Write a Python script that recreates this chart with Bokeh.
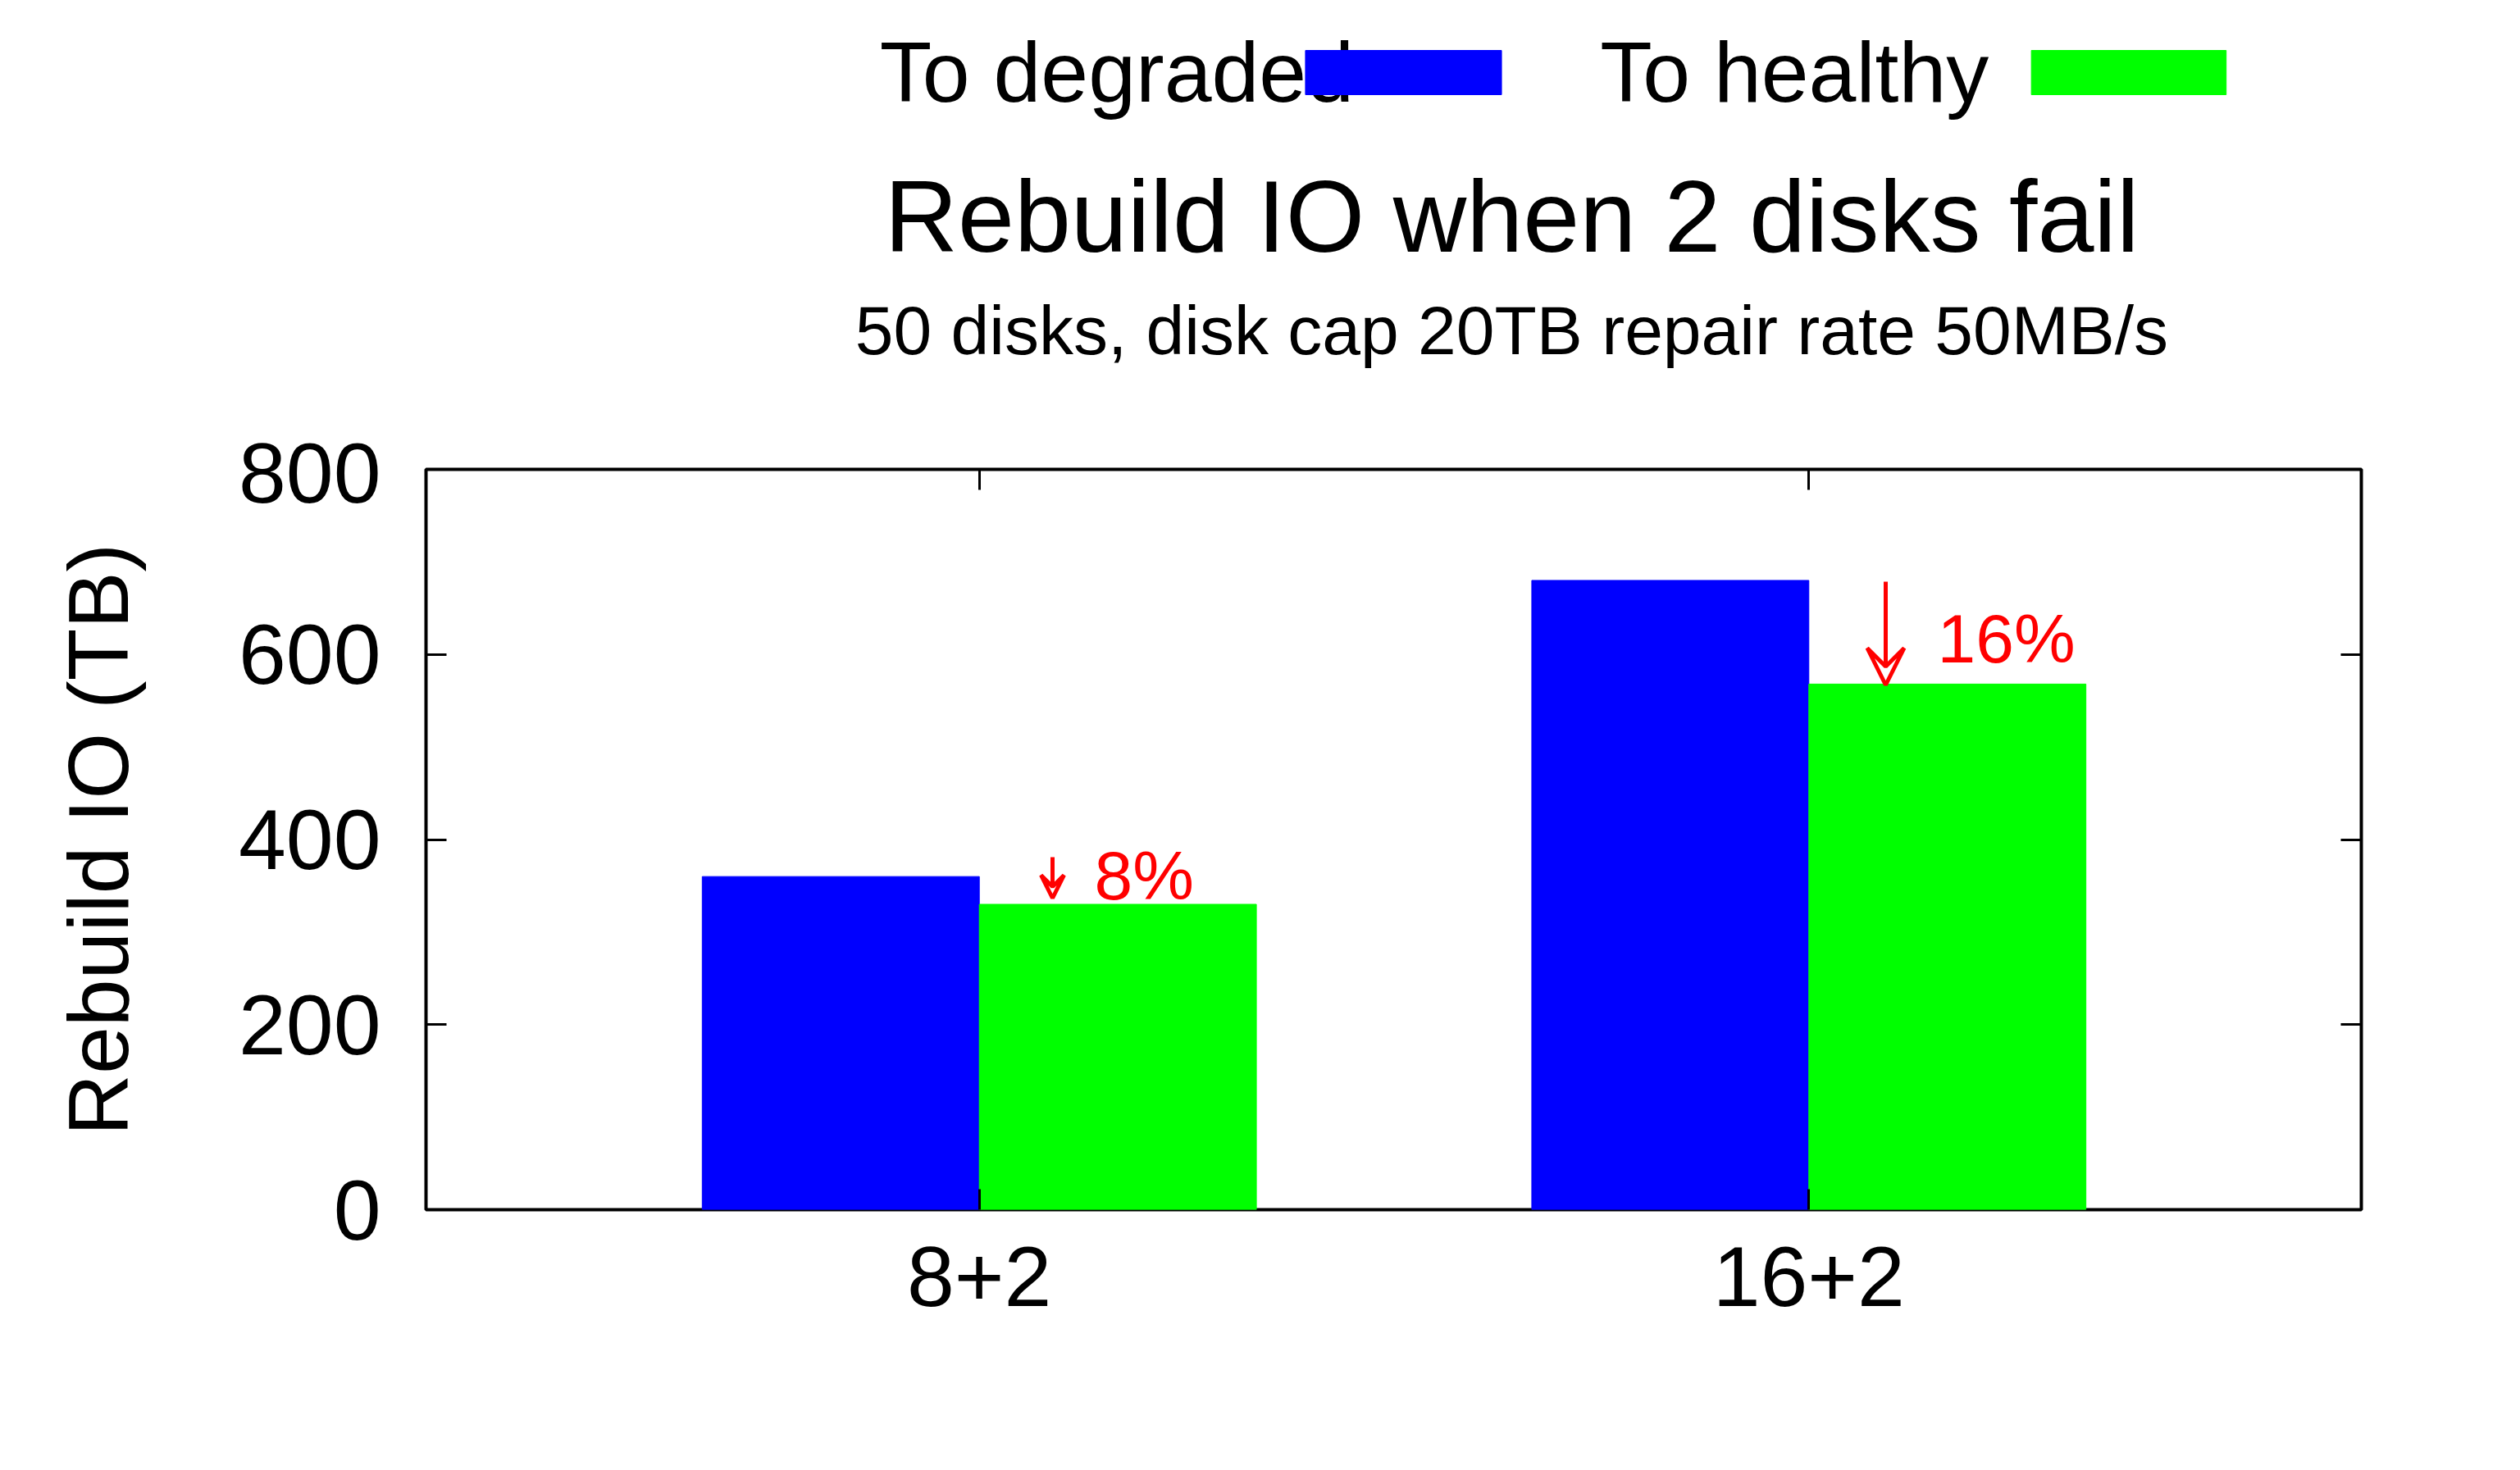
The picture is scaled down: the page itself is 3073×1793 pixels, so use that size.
from bokeh.plotting import figure
from bokeh.models import (Range1d, Label, Arrow, VeeHead, FixedTicker, LinearAxis,
                          ColumnDataSource)
from bokeh.layouts import column
from bokeh.core.properties import value
from bokeh.embed import file_html
from bokeh.resources import INLINE

# data
groups = ["8+2", "16+2"]
degraded = [360, 680]
healthy = [330, 568]
changes = ["8%", "16%"]
yticks = [0, 200, 400, 600, 800]
series = ["To degraded", "To healthy"]
title = "Rebuild IO when 2 disks fail"
subtitle = "50 disks, disk cap 20TB repair rate 50MB/s"

FONT = "Liberation Sans"
W, H = 3050, 1770
TOPH = 540
FL, FT, FR, FB = 519, 572, 2879, 1475  # frame edges in page pixels
X0, X1 = 0.333, 2.666
Y0, Y1 = 0, 800

def px2x(px):
    return X0 + (px - FL) * (X1 - X0) / (FR - FL)

def px2y(py):
    return Y1 - (py - FT) * (Y1 - Y0) / (FB - FT)

# header figure: titles and legend, in pixel coordinates
t = figure(width=W, height=TOPH, output_backend="svg", toolbar_location=None,
           x_range=Range1d(0, W), y_range=Range1d(TOPH, 0), min_border=0)
t.axis.visible = False
t.grid.grid_line_color = None
t.outline_line_color = None
t.text(x=[1711, 1711], y=[263, 402], text=[title, subtitle], text_font=value(FONT),
       text_font_size={"value": "124px"} if False else "124px", text_align="center",
       text_baseline="middle", color="black")
t.text(x=[715, 2463], y=[87, 87], text=series, text_font=value(FONT),
       text_font_size="104px", text_align=["left", "right"],
       text_baseline="middle", color="black")
t.quad(left=[1386, 2530], right=[1695, 2837], top=[61, 61], bottom=[115, 115],
       color=["#0000ff", "#00ff00"])
# subtitle smaller
t.renderers[0].glyph.text_font_size = "124px"
sub = t.text(x=[1711], y=[402], text=[subtitle], text_font=value(FONT),
             text_font_size="84px", text_align="center", text_baseline="middle",
             color="black")
t.renderers[0].data_source.data = dict(x=[1711], y=[263], text=[title])

p = figure(width=W, height=H - TOPH, output_backend="svg", toolbar_location=None,
           x_range=Range1d(X0, X1), y_range=Range1d(Y0, Y1),
           min_border_left=FL, min_border_top=FT - TOPH, min_border_right=W - FR,
           min_border_bottom=H - FB)
p.grid.grid_line_color = None
p.outline_line_color = "black"
p.outline_line_width = 4

xs = [1, 2]
src = ColumnDataSource(dict(x=xs, deg=degraded, hea=healthy,
                            xd=[x - 0.167 for x in xs], xh=[x + 0.167 for x in xs]))
p.vbar(x="xd", top="deg", width=0.334, source=src, color="#0000ff")
p.vbar(x="xh", top="hea", width=0.334, source=src, color="#00ff00")

def style(ax, labels=True):
    ax.axis_line_color = None
    ax.major_tick_in = 25
    ax.major_tick_out = 0
    ax.major_tick_line_width = 3
    ax.major_tick_line_color = "black"
    ax.minor_tick_line_color = None
    ax.major_label_text_color = "black" if labels else None
    ax.major_label_text_font = FONT
    ax.major_label_text_font_size = "104px" if labels else "1px"

p.xaxis.ticker = FixedTicker(ticks=xs)
p.xaxis.major_label_overrides = {1: groups[0], 2: groups[1]}
p.xaxis.major_label_standoff = 45
p.yaxis.ticker = FixedTicker(ticks=yticks)
p.yaxis.major_label_standoff = 55
p.yaxis.axis_label = "Rebuild IO (TB)"
p.yaxis.axis_label_text_font = FONT
p.yaxis.axis_label_text_font_style = "normal"
p.yaxis.axis_label_text_font_size = "104px"
p.yaxis.axis_label_text_color = "black"
p.yaxis.axis_label_standoff = 110
style(p.xaxis[0])
style(p.yaxis[0])
top = LinearAxis(ticker=FixedTicker(ticks=xs))
right = LinearAxis(ticker=FixedTicker(ticks=yticks))
style(top, False)
style(right, False)
p.add_layout(top, "above")
p.add_layout(right, "right")

def lab(px, py, text, size, align="left", color="black"):
    p.add_layout(Label(x=px2x(px), y=px2y(py), text=text, text_font=FONT,
                       text_font_size=size, text_align=align, text_baseline="middle",
                       text_color=color))

# annotations
lab(1334, 1067, changes[0], "84px", color="red")
lab(2362, 778, changes[1], "84px", color="red")
p.add_layout(Arrow(end=VeeHead(size=28, line_color="red", fill_color=None, line_width=5),
                   x_start=px2x(1283), y_start=px2y(1045), x_end=px2x(1283), y_end=px2y(1095),
                   line_color="red", line_width=5))
p.add_layout(Arrow(end=VeeHead(size=45, line_color="red", fill_color=None, line_width=5),
                   x_start=px2x(2299), y_start=px2y(709), x_end=px2x(2299), y_end=px2y(835),
                   line_color="red", line_width=5))

open("out.html", "w").write(file_html(column(t, p), INLINE))
